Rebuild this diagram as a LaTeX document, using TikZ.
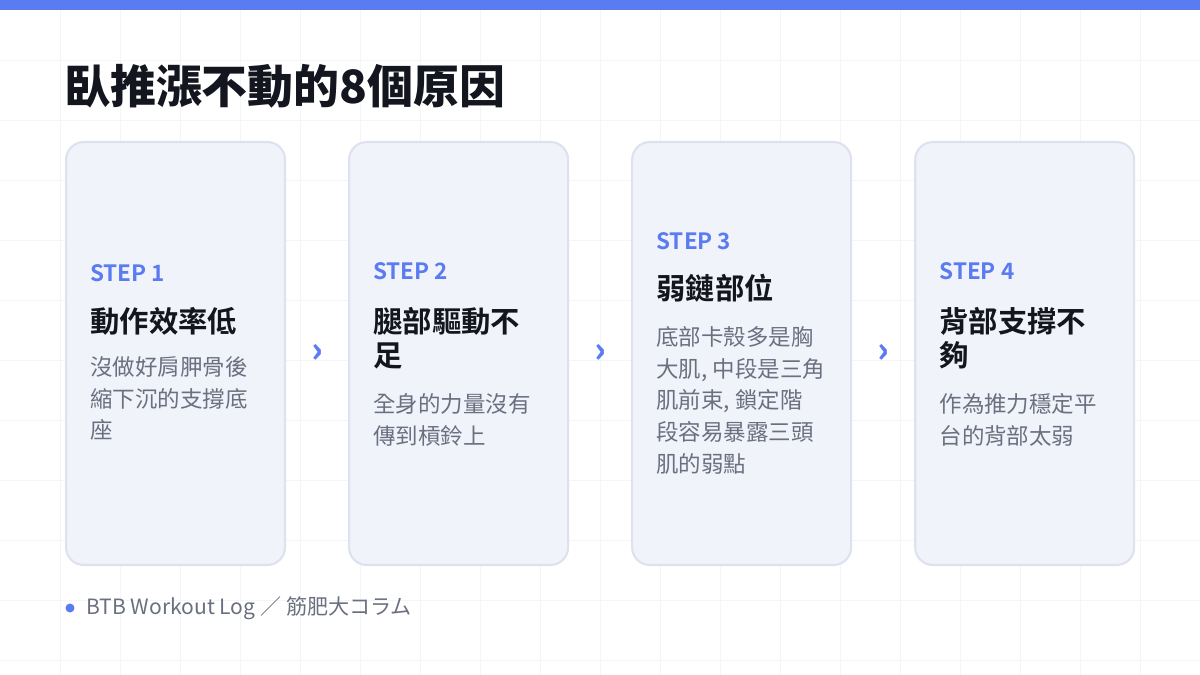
\documentclass[tikz,border=0pt]{standalone}
\usepackage{fontspec}
\setmainfont{Noto Sans CJK TC}
\newfontfamily\cjkbold{Noto Sans CJK TC Bold}
\newfontfamily\cjkheavy{Noto Sans CJK TC Black}
\usetikzlibrary{positioning, calc}
\definecolor{accentblue}{HTML}{5B7BF0}
\definecolor{cardfill}{HTML}{F1F3FA}
\definecolor{cardline}{HTML}{DDE2EE}
\definecolor{inkdark}{HTML}{14161F}
\definecolor{inkgray}{HTML}{6B7080}
\definecolor{gridline}{HTML}{F4F5F8}
\tikzset{
  card/.style={draw=cardline, line width=1.2pt, fill=cardfill, rounded corners=10pt, minimum width=4.38cm, minimum height=8.46cm},
  chevron/.style={text=accentblue, font=\cjkheavy\fontsize{20pt}{20pt}\selectfont},
  steplabel/.style={anchor=base west, inner sep=0pt, text=accentblue, font=\cjkbold\fontsize{12.8pt}{15pt}\selectfont},
  steptitle/.style={anchor=north west, inner sep=0pt, align=left, text=inkdark, font=\cjkbold\fontsize{16.7pt}{19.3pt}\selectfont},
  stepbody/.style={anchor=north west, inner sep=0pt, align=left, text=inkgray, font=\fontsize{12.8pt}{18.1pt}\selectfont}
}
\begin{document}
\begin{tikzpicture}[x=0.02cm, y=-0.02cm]
  \useasboundingbox (0,0) rectangle (1200,675);
  \fill[white] (0,0) rectangle (1200,675);
  % background grid
  \foreach \gx in {60,120,...,1140} \draw[gridline, line width=0.5pt] (\gx,0) -- (\gx,675);
  \foreach \gy in {60,120,...,660} \draw[gridline, line width=0.5pt] (0,\gy) -- (1200,\gy);
  \fill[accentblue] (0,0) rectangle (1200,10);

  \node[anchor=west, inner sep=0pt, text=inkdark, font=\cjkheavy\fontsize{26.1pt}{30pt}\selectfont] (title) at (64,86) {臥推漲不動的8個原因};

  % cards
  \node[card, anchor=north west] (card1) at (65,141) {};
  \node[card, right=1.24cm of card1] (card2) {};
  \node[card, right=1.24cm of card2] (card3) {};
  \node[card, right=1.24cm of card3] (card4) {};

  \node[chevron] at ($(card1.east)!0.5!(card2.west)$) (chev1) {›};
  \node[chevron] at ($(card2.east)!0.5!(card3.west)$) (chev2) {›};
  \node[chevron] at ($(card3.east)!0.5!(card4.west)$) (chev3) {›};

  % card texts
  \node[steplabel] (step1) at ($(card1.north west)+(25,141)$) {STEP 1};
  \node[steptitle] (head1) at ($(card1.north west)+(25,166)$) {動作效率低};
  \node[stepbody] (body1) at ($(card1.north west)+(25,215)$) {沒做好肩胛骨後\\縮下沉的支撐底\\座};

  \node[steplabel] (step2) at ($(card2.north west)+(25,139)$) {STEP 2};
  \node[steptitle] (head2) at ($(card2.north west)+(25,166)$) {腿部驅動不\\足};
  \node[stepbody] (body2) at ($(card2.north west)+(25,252)$) {全身的力量沒有\\傳到槓鈴上};

  \node[steplabel] (step3) at ($(card3.north west)+(25,109)$) {STEP 3};
  \node[steptitle] (head3) at ($(card3.north west)+(25,133)$) {弱鏈部位};
  \node[stepbody] (body3) at ($(card3.north west)+(25,185)$) {底部卡殼多是胸\\大肌, 中段是三角\\肌前束, 鎖定階\\段容易暴露三頭\\肌的弱點};

  \node[steplabel] (step4) at ($(card4.north west)+(25,139)$) {STEP 4};
  \node[steptitle] (head4) at ($(card4.north west)+(25,166)$) {背部支撐不\\夠};
  \node[stepbody] (body4) at ($(card4.north west)+(25,252)$) {作為推力穩定平\\台的背部太弱};

  % footer
  \fill[accentblue] (70,608) circle (4.5);
  \node[anchor=west, inner sep=0pt, text=inkgray, font=\fontsize{12pt}{14pt}\selectfont] (footer) at (86,608) {BTB Workout Log ／ 筋肥大コラム};
\end{tikzpicture}
\end{document}
